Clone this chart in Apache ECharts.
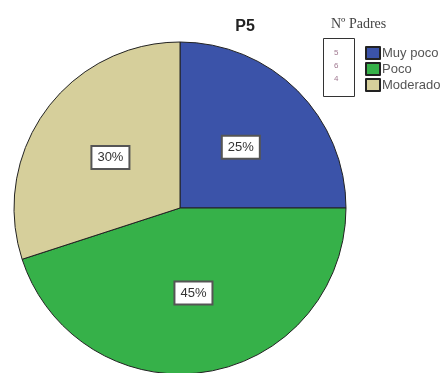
<!DOCTYPE html>
<html>
<head>
<meta charset="utf-8">
<script src="https://cdn.jsdelivr.net/npm/echarts@6/dist/echarts.min.js"></script>
<style>
  html, body { margin: 0; padding: 0; background: #fff; }
  #chart { width: 447px; height: 373px; }
</style>
</head>
<body>
<div id="chart"></div>
<script>
// datos
var categories = ["Muy poco", "Poco", "Moderado"];
var percents = [25, 45, 30];
var colors = ["#3b53a9", "#36b149", "#d6cf9b"];

var chart = echarts.init(document.getElementById("chart"));

var pieData = categories.map(function (name, i) {
  return { name: name, value: percents[i], itemStyle: { color: colors[i] } };
});

var option = {
  animation: false,
  title: [
    {
      text: "P5",
      left: 240,
      top: 14,
      textAlign: "center",
      textStyle: { fontFamily: "Liberation Sans", fontSize: 16, fontWeight: "bold", color: "#222" }
    },
    {
      text: "Nº Padres",
      left: 326,
      top: 12,
      textStyle: { fontFamily: "Liberation Serif", fontSize: 14, fontWeight: "normal", color: "#444" }
    }
  ],
  legend: {
    orient: "vertical",
    left: 360,
    top: 41,
    itemWidth: 14,
    itemHeight: 12,
    itemGap: 2,
    icon: "rect",
    textStyle: { fontFamily: "Liberation Sans", fontSize: 13, color: "#555", padding: [0, 0, 0, -3] },
    data: categories
  },
  graphic: [
    {
      type: "rect",
      left: 323,
      top: 38,
      shape: { width: 31, height: 58 },
      style: { fill: "#fff", stroke: "#333", lineWidth: 1 }
    },
    {
      type: "text",
      left: 334,
      top: 46,
      style: { text: "5\n6\n4", fontSize: 8, lineHeight: 13, fill: "#a07890", fontFamily: "Liberation Sans" }
    }
  ],
  series: [
    {
      type: "pie",
      center: [180, 208],
      radius: 166,
      startAngle: 90,
      clockwise: true,
      itemStyle: { borderColor: "#222", borderWidth: 1 },
      label: {
        show: true,
        position: "inside",
        formatter: "{c}%",
        fontFamily: "Liberation Sans",
        fontSize: 13,
        color: "#333",
        backgroundColor: "#fff",
        borderColor: "#555",
        borderWidth: 2,
        padding: [4, 5]
      },
      labelLine: { show: false },
      emphasis: { disabled: true },
      data: pieData
    }
  ]
};

chart.setOption(option);
</script>
</body>
</html>
